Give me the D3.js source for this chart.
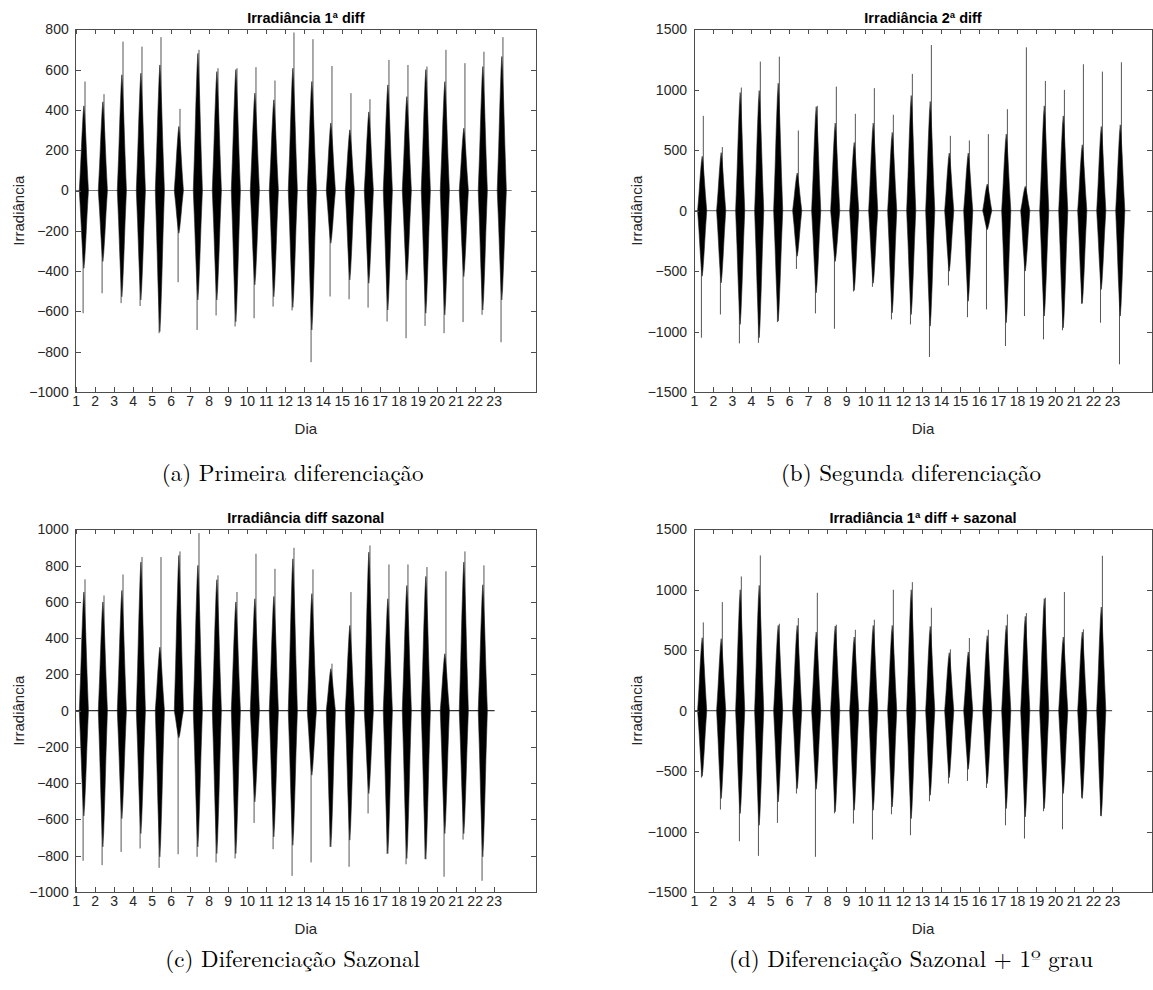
<!DOCTYPE html>
<html>
<head>
<meta charset="utf-8">
<script src="https://d3js.org/d3.v7.min.js"></script>
<style>
body { margin: 0; background: #fff; }
svg text { fill: #262626; font-family: Arial, "Liberation Sans", Helvetica, sans-serif; }
.tick line { stroke: #4d4d4d; shape-rendering: crispEdges; }
.tick text { font-size: 14px; }
.caixa { fill: none; stroke: #4d4d4d; stroke-width: 1; shape-rendering: crispEdges; }
.titulo { font-size: 14.5px; font-weight: bold; fill: #000 !important; }
.rotulo { font-size: 15px; }
.legenda { font-family: "Latin Modern Roman", "CMU Serif", "Liberation Serif", "Times New Roman", serif !important; font-size: 23px; fill: #000 !important; }
</style>
</head>
<body>
<div id="figura"></div>
<script>
// dias (rotulos do eixo x)
var dias = [1, 2, 3, 4, 5, 6, 7, 8, 9, 10, 11, 12, 13, 14, 15, 16, 17, 18, 19, 20, 21, 22, 23];
var ticksA = [-1000, -800, -600, -400, -200, 0, 200, 400, 600, 800];
var ticksB = [-1500, -1000, -500, 0, 500, 1000, 1500];
var ticksC = [-1000, -800, -600, -400, -200, 0, 200, 400, 600, 800, 1000];
var ticksD = [-1500, -1000, -500, 0, 500, 1000, 1500];

// (a) 1a diff - corpo (parte cheia) e picos de cada dia
var corpoSupA = [420, 440, 574, 582, 623, 318, 680, 590, 600, 483, 450, 607, 541, 335, 301, 390, 524, 466, 600, 540, 309, 615, 665];
var picoSupA  = [541, 478, 739, 714, 761, 405, 698, 607, 607, 612, 546, 784, 751, 618, 483, 453, 648, 623, 615, 698, 632, 689, 761];
var corpoInfA = [-386, -352, -527, -543, -700, -212, -543, -543, -651, -468, -527, -580, -692, -262, -444, -460, -593, -444, -609, -617, -427, -593, -543];
var picoInfA  = [-609, -510, -559, -573, -708, -455, -692, -620, -675, -634, -576, -595, -852, -526, -540, -581, -650, -733, -672, -708, -653, -617, -753];
var fimA = 23.95;

// (b) 2a diff
var corpoSupB = [449, 480, 977, 993, 1054, 311, 860, 724, 564, 724, 647, 952, 903, 476, 476, 220, 633, 201, 867, 784, 545, 696, 710];
var picoSupB  = [784, 526, 1018, 1233, 1274, 663, 867, 1026, 801, 1013, 793, 1131, 1370, 619, 581, 633, 839, 1351, 1073, 999, 1211, 1150, 1227];
var corpoInfB = [-542, -597, -941, -1051, -914, -377, -680, -420, -660, -600, -845, -859, -955, -501, -749, -157, -927, -500, -872, -969, -768, -652, -872];
var picoInfB  = [-1051, -859, -1098, -1093, -922, -482, -850, -977, -669, -630, -900, -941, -1211, -619, -881, -817, -1120, -872, -1065, -990, -770, -927, -1271];
var fimB = 23.97;

// (c) diff sazonal
var corpoSupC = [654, 599, 663, 819, 350, 856, 801, 722, 599, 617, 630, 837, 645, 231, 470, 874, 617, 690, 740, 314, 819, 694];
var picoSupC  = [724, 635, 751, 847, 847, 878, 979, 746, 654, 865, 782, 898, 779, 259, 654, 911, 806, 806, 792, 768, 878, 801];
var corpoInfC = [-580, -751, -595, -678, -806, -150, -751, -788, -788, -503, -696, -742, -356, -751, -714, -457, -788, -815, -819, -678, -678, -806];
var picoInfC  = [-828, -852, -779, -760, -867, -792, -806, -837, -815, -619, -764, -911, -837, -751, -861, -567, -790, -847, -819, -916, -711, -938];
var fimC = 23.05;

// (d) 1a diff + sazonal
var corpoSupD = [603, 595, 1000, 1036, 705, 705, 650, 700, 609, 705, 705, 1000, 697, 479, 485, 620, 705, 780, 926, 609, 650, 857];
var picoSupD  = [730, 898, 1110, 1284, 719, 766, 975, 711, 669, 752, 1000, 1063, 851, 507, 601, 669, 796, 807, 934, 981, 672, 1281];
var corpoInfD = [-543, -727, -851, -948, -755, -645, -650, -837, -824, -824, -796, -893, -700, -554, -485, -603, -810, -879, -810, -686, -727, -873];
var picoInfD  = [-554, -818, -1080, -1201, -928, -686, -1209, -850, -934, -1066, -857, -1030, -749, -603, -581, -639, -948, -1058, -832, -981, -720, -870];
var fimD = 23.0;

var paineis = [
  {titulo: "Irradiância 1ª diff", legenda: "(a) Primeira diferenciação", esq: 75.7, topo: 29.3, larg: 460.3, xMax: 25.23,
   ticks: ticksA, sup: corpoSupA, pSup: picoSupA, inf: corpoInfA, pInf: picoInfA, fim: fimA, zero: "#777", legY: 481},
  {titulo: "Irradiância 2ª diff", legenda: "(b) Segunda diferenciação", esq: 694, topo: 29.3, larg: 458, xMax: 25.1,
   ticks: ticksB, sup: corpoSupB, pSup: picoSupB, inf: corpoInfB, pInf: picoInfB, fim: fimB, zero: "#777", legY: 481},
  {titulo: "Irradiância diff sazonal", legenda: "(c) Diferenciação Sazonal", esq: 75.7, topo: 529.3, larg: 460.3, xMax: 25.23,
   ticks: ticksC, sup: corpoSupC, pSup: picoSupC, inf: corpoInfC, pInf: picoInfC, fim: fimC, zero: "#333", legY: 967},
  {titulo: "Irradiância 1ª diff + sazonal", legenda: "(d) Diferenciação Sazonal + 1º grau", esq: 694, topo: 529.3, larg: 458, xMax: 25.1,
   ticks: ticksD, sup: corpoSupD, pSup: picoSupD, inf: corpoInfD, pInf: picoInfD, fim: fimD, zero: "#555", legY: 967}
];

var alt = 362.7;
// forma de cada "rajada" diaria (deslocamento em dias, fracao da amplitude)
var centro = 0.43;
var perfil = [[-0.24, 0], [-0.17, 0.3], [-0.1, 0.65], [-0.04, 0.9], [0, 1], [0.04, 0.9], [0.1, 0.65], [0.17, 0.3], [0.24, 0]];

var svg = d3.select("#figura").append("svg")
  .attr("width", 1153)
  .attr("height", 990);

paineis.forEach(function(p, k) {
  var ext = d3.extent(p.ticks);
  var x = d3.scaleLinear().domain([1, p.xMax]).range([p.esq, p.esq + p.larg]);
  var y = d3.scaleLinear().domain([ext[0], ext[1]]).range([p.topo + alt, p.topo]);
  var dir = p.esq + p.larg, base = p.topo + alt;

  var g = svg.append("g");
  g.append("clipPath").attr("id", "clip" + k)
    .append("rect").attr("x", p.esq).attr("y", p.topo).attr("width", p.larg).attr("height", alt);

  var plot = g.append("g").attr("clip-path", "url(#clip" + k + ")");

  // linha do zero (noite)
  plot.append("path")
    .datum([1, p.fim])
    .attr("d", d3.line().x(function(d) { return x(d); }).y(y(0)))
    .attr("stroke", p.zero).attr("stroke-width", 1.2).attr("fill", "none");

  var area = d3.area()
    .x(function(d) { return x(d.x); })
    .y0(function(d) { return y(d.inf); })
    .y1(function(d) { return y(d.sup); });

  p.sup.forEach(function(s, i) {
    var c = dias[i] + centro;
    // picos finos
    plot.append("line")
      .attr("x1", x(c + 0.06)).attr("x2", x(c + 0.06))
      .attr("y1", y(0)).attr("y2", y(p.pSup[i]))
      .attr("stroke", "#555").attr("stroke-width", 1);
    plot.append("line")
      .attr("x1", x(c - 0.04)).attr("x2", x(c - 0.04))
      .attr("y1", y(0)).attr("y2", y(p.pInf[i]))
      .attr("stroke", "#555").attr("stroke-width", 1);
    // corpo
    var pts = perfil.map(function(q) {
      return {x: c + q[0], sup: s * q[1], inf: p.inf[i] * q[1]};
    });
    plot.append("path").datum(pts).attr("d", area)
      .attr("fill", "#000").attr("stroke", "#222").attr("stroke-width", 0.6);
  });

  // eixos
  g.append("g").attr("transform", "translate(0," + base + ")")
    .call(d3.axisBottom(x).tickValues(dias).tickSizeInner(-5).tickSizeOuter(0).tickPadding(4).tickFormat(d3.format("d")))
    .call(function(a) { a.select(".domain").remove(); });
  g.append("g").attr("transform", "translate(0," + p.topo + ")")
    .call(d3.axisTop(x).tickValues(dias).tickSizeInner(-5).tickSizeOuter(0).tickFormat(""))
    .call(function(a) { a.select(".domain").remove(); });
  g.append("g").attr("transform", "translate(" + p.esq + ",0)")
    .call(d3.axisLeft(y).tickValues(p.ticks).tickSizeInner(-5).tickSizeOuter(0).tickPadding(7).tickFormat(d3.format("d")))
    .call(function(a) { a.select(".domain").remove(); });
  g.append("g").attr("transform", "translate(" + dir + ",0)")
    .call(d3.axisRight(y).tickValues(p.ticks).tickSizeInner(-5).tickSizeOuter(0).tickFormat(""))
    .call(function(a) { a.select(".domain").remove(); });
  g.selectAll(".tick text").attr("font-family", null).attr("font-size", null);

  g.append("rect").attr("class", "caixa")
    .attr("x", p.esq).attr("y", p.topo).attr("width", p.larg).attr("height", alt);

  g.append("text").attr("class", "titulo")
    .attr("x", p.esq + p.larg / 2).attr("y", p.topo - 6.5)
    .attr("text-anchor", "middle").text(p.titulo);
  g.append("text").attr("class", "rotulo")
    .attr("x", p.esq + p.larg / 2).attr("y", base + 42)
    .attr("text-anchor", "middle").text("Dia");
  g.append("text").attr("class", "rotulo")
    .attr("transform", "translate(" + (p.esq - 52) + "," + (p.topo + alt / 2) + ") rotate(-90)")
    .attr("text-anchor", "middle").text("Irradiância");
  g.append("text").attr("class", "legenda")
    .attr("x", p.esq + 217).attr("y", p.legY)
    .attr("text-anchor", "middle").text(p.legenda);
});
</script>
</body>
</html>
